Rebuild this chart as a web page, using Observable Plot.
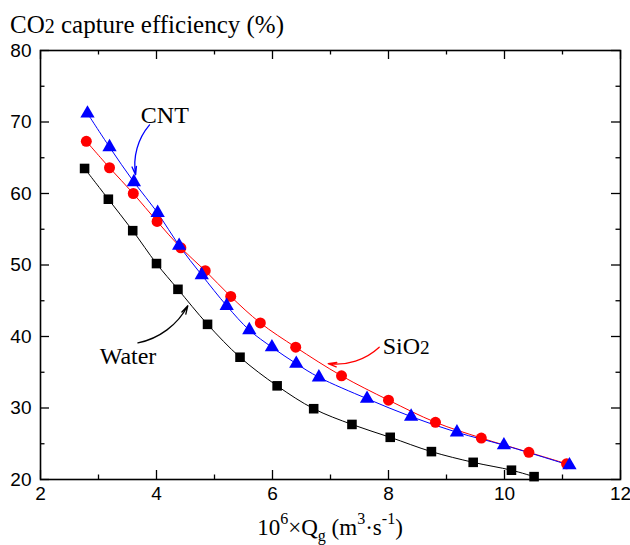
<!DOCTYPE html>
<html><head><meta charset="utf-8">
<script src="https://cdn.jsdelivr.net/npm/d3@7"></script>
<script src="https://cdn.jsdelivr.net/npm/@observablehq/plot@0.6"></script>
<style>
html,body{margin:0;padding:0;background:#fff;}
#wrap{width:630px;height:545px;position:relative;overflow:hidden;}
.title{box-sizing:border-box;height:40px;padding:12px 0 0 10px;font-family:'Liberation Serif','Times New Roman',serif;font-size:25px;line-height:25px;color:#000;white-space:nowrap;}
.xlabel{box-sizing:border-box;height:40px;padding:11px 10px 0 40px;text-align:center;font-family:'Liberation Serif','Times New Roman',serif;font-size:23px;line-height:23px;color:#000;white-space:nowrap;}
.xlabel sup,.xlabel sub{font-size:0.7em;line-height:0;vertical-align:baseline;position:relative;}
.xlabel sup{top:-0.7em;}
.xlabel sub{top:0.35em;}
svg{display:block;}
</style>
</head><body><div id="wrap">
<div class="title">CO<span style="font-size:0.8em">2</span> capture efficiency (%)</div>
<div id="chart"></div>
<div class="xlabel">10<sup>6</sup>×Q<sub>g</sub> (m<sup>3</sup>·s<sup>-1</sup>)</div>
</div>
<script>
// ---- data ----
const waterX = [2.76, 3.17, 3.59, 4.00, 4.37, 4.88, 5.44, 6.08, 6.71, 7.37, 8.03, 8.74, 9.46, 10.12, 10.51];
const waterY = [63.5, 59.2, 54.8, 50.2, 46.6, 41.7, 37.1, 33.1, 29.9, 27.7, 25.9, 23.9, 22.4, 21.3, 20.4];
const sio2X = [2.79, 3.19, 3.60, 4.01, 4.42, 4.84, 5.28, 5.79, 6.40, 7.19, 8.00, 8.81, 9.60, 10.42, 11.07];
const sio2Y = [67.3, 63.6, 60.0, 56.1, 52.4, 49.2, 45.6, 41.9, 38.5, 34.5, 31.1, 28.0, 25.8, 23.8, 22.2];
const cntX = [2.81, 3.19, 3.61, 4.02, 4.39, 4.78, 5.21, 5.60, 5.99, 6.41, 6.80, 7.63, 8.39, 9.18, 9.99, 11.12];
const cntY = [71.2, 66.5, 61.6, 57.3, 52.7, 48.6, 44.3, 40.9, 38.5, 36.2, 34.3, 31.3, 28.8, 26.6, 24.8, 22.0];
const seriesNames = ["Water", "SiO2", "CNT"];
const seriesColors = ["#000000", "#ff0000", "#0000ff"];
const seriesSymbols = ["square", "circle", "triangle"];
const seriesR = [5.4, 5.5, 5.3];
const xMajor = [2, 4, 6, 8, 10, 12];
const xMinor = [3, 5, 7, 9, 11];
const yMajor = [20, 30, 40, 50, 60, 70, 80];
const yMinor = [25, 35, 45, 55, 65, 75];
// annotation labels (data coords)
const labelText = ["CNT", "Water", "SiO2"];
const labelX = [3.73, 3.02, 7.90];
const labelY = [71.0, 37.2, 38.6];
const labelColor = ["#000000", "#000000", "#000000"];
// annotation arrows (data coords)
const arrowX1 = [3.88, 3.68, 7.84];
const arrowY1 = [69.6, 39.1, 38.5];
const arrowX2 = [3.64, 4.54, 6.96];
const arrowY2 = [62.6, 44.3, 36.2];
const arrowBend = [-25, -25, 25];
const arrowColor = ["#0000ff", "#000000", "#ff0000"];

// ---- tables ----
const xs = [waterX, sio2X, cntX], ys = [waterY, sio2Y, cntY];
const table = [];
seriesNames.forEach((s, i) => xs[i].forEach((x, j) => table.push({series: s, x, y: ys[i][j]})));
const labels = labelText.map((t, i) => ({t, x: labelX[i], y: labelY[i], c: labelColor[i]}));
const arrows = arrowX1.map((x1, i) => ({x1, y1: arrowY1[i], x2: arrowX2[i], y2: arrowY2[i]}));

const W = 630, H = 465, mL = 40, mR = 10, mT = 10, mB = 26;
const pw = W - mL - mR, ph = H - mT - mB;
const majorLen = 9, minorLen = 4.5;
const tickStyle = {stroke: "#000", strokeWidth: 1.3};

const marks = [
  Plot.axisX({ticks: xMajor, tickSize: 0, tickPadding: 7, label: null, fontSize: 19}),
  Plot.axisY({ticks: yMajor, tickSize: 0, tickPadding: 9, label: null, fontSize: 19}),
  // inward ticks: bottom, top, left, right
  Plot.tickX(xMajor, {x: d => d, insetTop: ph - majorLen, ...tickStyle}),
  Plot.tickX(xMinor, {x: d => d, insetTop: ph - minorLen, ...tickStyle}),
  Plot.tickX(xMajor, {x: d => d, insetBottom: ph - majorLen, ...tickStyle}),
  Plot.tickX(xMinor, {x: d => d, insetBottom: ph - minorLen, ...tickStyle}),
  Plot.tickY(yMajor, {y: d => d, insetRight: pw - majorLen, ...tickStyle}),
  Plot.tickY(yMinor, {y: d => d, insetRight: pw - minorLen, ...tickStyle}),
  Plot.tickY(yMajor, {y: d => d, insetLeft: pw - majorLen, ...tickStyle}),
  Plot.tickY(yMinor, {y: d => d, insetLeft: pw - minorLen, ...tickStyle}),
  Plot.frame({stroke: "#000", strokeWidth: 1.6})
];
seriesNames.forEach((s, i) => {
  const d = table.filter(r => r.series === s);
  marks.push(Plot.line(d, {x: "x", y: "y", stroke: seriesColors[i], strokeWidth: 1, curve: "catmull-rom"}));
});
seriesNames.forEach((s, i) => {
  const d = table.filter(r => r.series === s);
  marks.push(Plot.dot(d, {x: "x", y: "y", symbol: seriesSymbols[i], r: seriesR[i], fill: seriesColors[i], stroke: "none"}));
});
arrows.forEach((a, i) => {
  marks.push(Plot.arrow([a], {x1: "x1", y1: "y1", x2: "x2", y2: "y2", bend: arrowBend[i], stroke: arrowColor[i], strokeWidth: 1.3, headLength: 10, headAngle: 30}));
});
marks.push(Plot.text(labels, {x: "x", y: "y", text: "t", fill: "c", textAnchor: "start", fontSize: 24, fontFamily: "Liberation Serif, Times New Roman, serif"}));

const chart = Plot.plot({
  width: W, height: H, marginLeft: mL, marginRight: mR, marginTop: mT, marginBottom: mB,
  style: {fontFamily: "Liberation Sans, Arial, sans-serif", fontSize: "19px", color: "#000", background: "#fff", overflow: "visible"},
  x: {domain: [2, 12]},
  y: {domain: [20, 80]},
  marks
});
document.getElementById("chart").appendChild(chart);

// render "2" of SiO2 slightly smaller, on the baseline
d3.select(chart).selectAll("text").filter(function() { return this.textContent === "SiO2"; })
  .each(function() {
    const t = d3.select(this);
    t.text("SiO");
    t.append("tspan").attr("font-size", "0.8em").text("2");
  });
</script>
</body></html>
